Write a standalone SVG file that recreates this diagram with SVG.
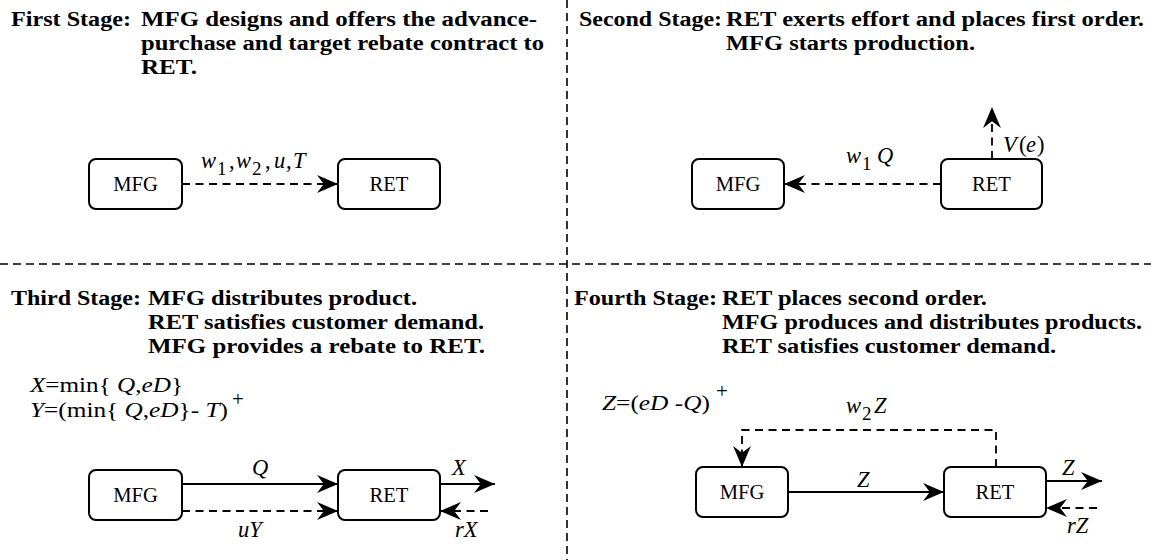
<svg xmlns="http://www.w3.org/2000/svg" width="1151" height="560" viewBox="0 0 1151 560">
<style>
.b{font-family:"Liberation Serif","Times New Roman","DejaVu Serif",serif;font-weight:bold;font-size:20.6px;fill:#000}
.r{font-family:"Liberation Serif","Times New Roman","DejaVu Serif",serif;font-size:20.6px;fill:#000}
.m{font-family:"Liberation Serif","Times New Roman","DejaVu Serif",serif;font-size:21px;fill:#000}
.l{font-size:22.5px}
.i{font-style:italic}
.s{font-size:19px;font-style:normal}
.box{fill:#fff;stroke:#000;stroke-width:2}
.c{fill:none;stroke:#000;stroke-width:1.8}
.d{stroke-dasharray:8 5.5}
.div{fill:none;stroke:#000;stroke-width:1.6;stroke-dasharray:8 5}
</style>
<defs>
<marker id="ah" markerUnits="userSpaceOnUse" viewBox="0 0 20 18" refX="20" refY="9" markerWidth="21" markerHeight="19" orient="auto">
<path d="M20,9 L0,0.5 L6.5,9 L0,17.5 Z" fill="#000"/>
</marker>
</defs>
<rect width="1151" height="560" fill="#fff"/>
<g id="dividers">
<line class="div" x1="567" y1="0" x2="567" y2="560"/>
<line class="div" x1="0" y1="264" x2="1151" y2="264"/>
</g>
<g id="stage1-text">
<text class="b" x="11" y="26" textLength="120" lengthAdjust="spacingAndGlyphs">First Stage:</text>
<text class="b" x="141" y="26" textLength="396" lengthAdjust="spacingAndGlyphs">MFG designs and offers the advance-</text>
<text class="b" x="141" y="50" textLength="403" lengthAdjust="spacingAndGlyphs">purchase and target rebate contract to</text>
<text class="b" x="141" y="74" textLength="56" lengthAdjust="spacingAndGlyphs">RET.</text>
</g>
<g id="stage2-text">
<text class="b" x="579" y="26" textLength="143" lengthAdjust="spacingAndGlyphs">Second Stage:</text>
<text class="b" x="726" y="26" textLength="418" lengthAdjust="spacingAndGlyphs">RET exerts effort and places first order.</text>
<text class="b" x="726" y="50" textLength="249" lengthAdjust="spacingAndGlyphs">MFG starts production.</text>
</g>
<g id="stage3-text">
<text class="b" x="11" y="305" textLength="130" lengthAdjust="spacingAndGlyphs">Third Stage:</text>
<text class="b" x="148" y="305" textLength="269" lengthAdjust="spacingAndGlyphs">MFG distributes product.</text>
<text class="b" x="148" y="329" textLength="336" lengthAdjust="spacingAndGlyphs">RET satisfies customer demand.</text>
<text class="b" x="148" y="353" textLength="337" lengthAdjust="spacingAndGlyphs">MFG provides a rebate to RET.</text>
<text class="m" x="30" y="392" textLength="153" lengthAdjust="spacingAndGlyphs"><tspan class="i">X</tspan>=min{ <tspan class="i">Q</tspan>,<tspan class="i">eD</tspan>}</text>
<text class="m" x="30" y="417" textLength="198" lengthAdjust="spacingAndGlyphs"><tspan class="i">Y</tspan>=(min{ <tspan class="i">Q</tspan>,<tspan class="i">eD</tspan>}- <tspan class="i">T</tspan>)</text>
<text class="m" x="232" y="406">+</text>
</g>
<g id="stage4-text">
<text class="b" x="574" y="305" textLength="143" lengthAdjust="spacingAndGlyphs">Fourth Stage:</text>
<text class="b" x="722" y="305" textLength="265" lengthAdjust="spacingAndGlyphs">RET places second order.</text>
<text class="b" x="722" y="329" textLength="420" lengthAdjust="spacingAndGlyphs">MFG produces and distributes products.</text>
<text class="b" x="722" y="353" textLength="334" lengthAdjust="spacingAndGlyphs">RET satisfies customer demand.</text>
<text class="m" x="602" y="410" textLength="108" lengthAdjust="spacingAndGlyphs"><tspan class="i">Z</tspan>=(<tspan class="i">eD</tspan> -<tspan class="i">Q</tspan>)</text>
<text class="m" x="716" y="398">+</text>
</g>
<g id="s1-mfg"><rect class="box" x="89" y="159" width="93" height="50" rx="7"/><text class="r" x="135.5" y="191" text-anchor="middle">MFG</text></g>
<g id="s1-ret"><rect class="box" x="338" y="159" width="102" height="50" rx="7"/><text class="r" x="389" y="191" text-anchor="middle">RET</text></g>
<g id="s2-mfg"><rect class="box" x="692" y="159" width="92" height="50" rx="7"/><text class="r" x="738" y="191" text-anchor="middle">MFG</text></g>
<g id="s2-ret"><rect class="box" x="941" y="159" width="101" height="50" rx="7"/><text class="r" x="991.5" y="191" text-anchor="middle">RET</text></g>
<g id="s3-mfg"><rect class="box" x="89" y="470" width="93" height="50" rx="7"/><text class="r" x="135.5" y="502" text-anchor="middle">MFG</text></g>
<g id="s3-ret"><rect class="box" x="338" y="470" width="102" height="50" rx="7"/><text class="r" x="389" y="502" text-anchor="middle">RET</text></g>
<g id="s4-mfg"><rect class="box" x="696" y="467" width="92" height="50" rx="7"/><text class="r" x="742" y="499" text-anchor="middle">MFG</text></g>
<g id="s4-ret"><rect class="box" x="944" y="467" width="102" height="50" rx="7"/><text class="r" x="995" y="499" text-anchor="middle">RET</text></g>
<g id="connectors">
<line class="c d" x1="182" y1="184" x2="338" y2="184" marker-end="url(#ah)"/>
<line class="c d" x1="941" y1="184" x2="784" y2="184" marker-end="url(#ah)"/>
<line class="c d" x1="992" y1="159" x2="992" y2="107" marker-end="url(#ah)"/>
<line class="c" x1="182" y1="484" x2="338" y2="484" marker-end="url(#ah)"/>
<line class="c d" x1="182" y1="511" x2="338" y2="511" marker-end="url(#ah)"/>
<line class="c" x1="440" y1="484" x2="495" y2="484" marker-end="url(#ah)"/>
<line class="c d" x1="488" y1="511" x2="440" y2="511" marker-end="url(#ah)"/>
<line class="c" x1="788" y1="492" x2="944" y2="492" marker-end="url(#ah)"/>
<path class="c d" d="M996,467 V430 H742 V467" marker-end="url(#ah)"/>
<line class="c" x1="1046" y1="481" x2="1102" y2="481" marker-end="url(#ah)"/>
<line class="c d" x1="1097" y1="508" x2="1046" y2="508" marker-end="url(#ah)"/>
</g>
<g id="connector-labels">
<text class="m l" y="168"><tspan x="201" class="i">w</tspan><tspan x="217" y="175" class="s">1</tspan><tspan x="229" y="168">,</tspan><tspan x="236" class="i">w</tspan><tspan x="252" y="175" class="s">2</tspan><tspan x="265" y="168">,</tspan><tspan x="274" class="i">u</tspan><tspan x="286">,</tspan><tspan x="293" class="i">T</tspan></text>
<text class="m l" y="163"><tspan x="846" class="i">w</tspan><tspan x="862" y="170" class="s">1</tspan><tspan x="877" y="163" class="i">Q</tspan></text>
<text class="m l" y="152"><tspan x="1003" class="i">V</tspan><tspan x="1019">(</tspan><tspan x="1026" class="i">e</tspan><tspan x="1037">)</tspan></text>
<text class="m l i" x="252" y="475">Q</text>
<text class="m l i" x="238" y="537">uY</text>
<text class="m l i" x="452" y="475">X</text>
<text class="m l i" x="455" y="537">rX</text>
<text class="m l i" x="857" y="487">Z</text>
<text class="m l" y="413"><tspan x="846" class="i">w</tspan><tspan x="862" y="420" class="s">2</tspan><tspan x="874" y="413" class="i">Z</tspan></text>
<text class="m l i" x="1062" y="475">Z</text>
<text class="m l i" x="1067" y="533">rZ</text>
</g>
</svg>
